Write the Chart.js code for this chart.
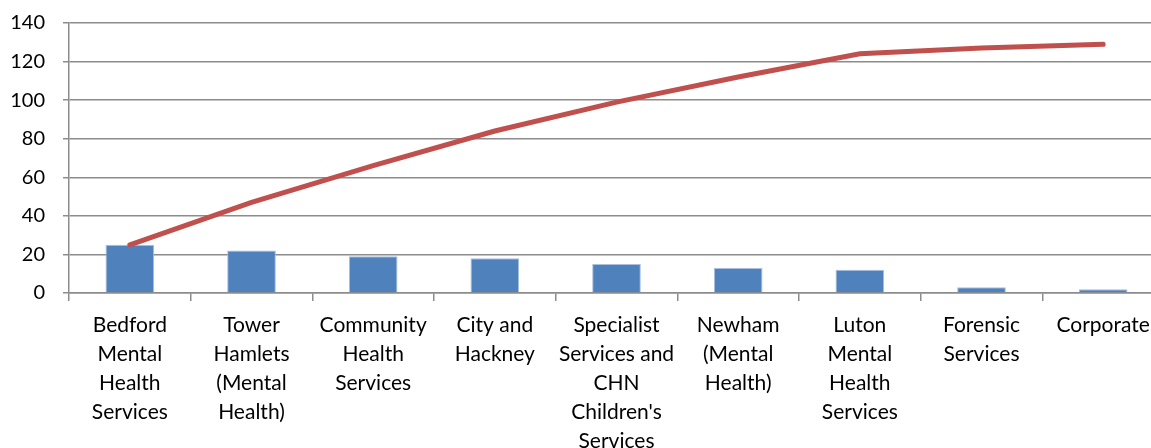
<!DOCTYPE html>
<html>
<head>
<meta charset="utf-8">
<script src="https://cdn.jsdelivr.net/npm/chart.js"></script>
<style>
  html, body { margin: 0; padding: 0; background: #fff; overflow: hidden; }
  #wrap { width: 1165px; height: 448px; position: relative; }
</style>
</head>
<body>
<div id="wrap"><canvas id="chart"></canvas></div>
<script>
const categories = [
  ['Bedford', 'Mental', 'Health', 'Services'],
  ['Tower', 'Hamlets', '(Mental', 'Health)'],
  ['Community', 'Health', 'Services'],
  ['City and', 'Hackney'],
  ['Specialist', 'Services and', 'CHN', "Children's", 'Services'],
  ['Newham', '(Mental', 'Health)'],
  ['Luton', 'Mental', 'Health', 'Services'],
  ['Forensic', 'Services'],
  ['Corporate']
];
const counts = [25, 22, 19, 18, 15, 13, 12, 3, 2];
const cumulative = [25, 47, 66, 84, 99, 112, 124, 127, 129];
const yTicks = [0, 20, 40, 60, 80, 100, 120, 140];

const gridColor = '#8c8c8c';
const family = 'Lato, "Liberation Sans", sans-serif';

new Chart(document.getElementById('chart'), {
  data: {
    labels: categories,
    datasets: [
      {
        type: 'line',
        data: cumulative,
        borderColor: '#c0504d',
        borderWidth: 5,
        borderCapStyle: 'round',
        pointRadius: 0,
        tension: 0,
        order: 0
      },
      {
        type: 'bar',
        data: counts,
        backgroundColor: '#4f81bd',
        borderColor: '#a9c0df',
        borderWidth: 1,
        barPercentage: 0.4,
        categoryPercentage: 1,
        order: 1
      }
    ]
  },
  options: {
    responsive: true,
    maintainAspectRatio: false,
    animation: false,
    layout: { padding: { top: 23, right: 1, left: 0, bottom: 0 } },
    plugins: { legend: { display: false }, tooltip: { enabled: false } },
    scales: {
      x: {
        grid: { drawOnChartArea: false, color: gridColor, lineWidth: 1.5, tickLength: 8, offset: true },
        border: { color: gridColor, width: 1.5 },
        ticks: { color: '#000', font: { family, size: 21, lineHeight: 1.38 }, padding: 10, maxRotation: 0, autoSkip: false },
        afterFit: s => { s.height = 155; s.paddingTop = 0; }
      },
      y: {
        min: 0,
        max: 140,
        afterBuildTicks: s => { s.ticks = yTicks.map(v => ({ value: v })); },
        grid: { color: gridColor, lineWidth: 1.5, tickLength: 6 },
        border: { color: gridColor, width: 1.5 },
        ticks: { color: '#000', font: { family, size: 20 }, padding: 18 },
        afterFit: s => { s.width = 69; s.paddingTop = 0; s.paddingBottom = 0; }
      }
    }
  }
});
</script>
</body>
</html>
